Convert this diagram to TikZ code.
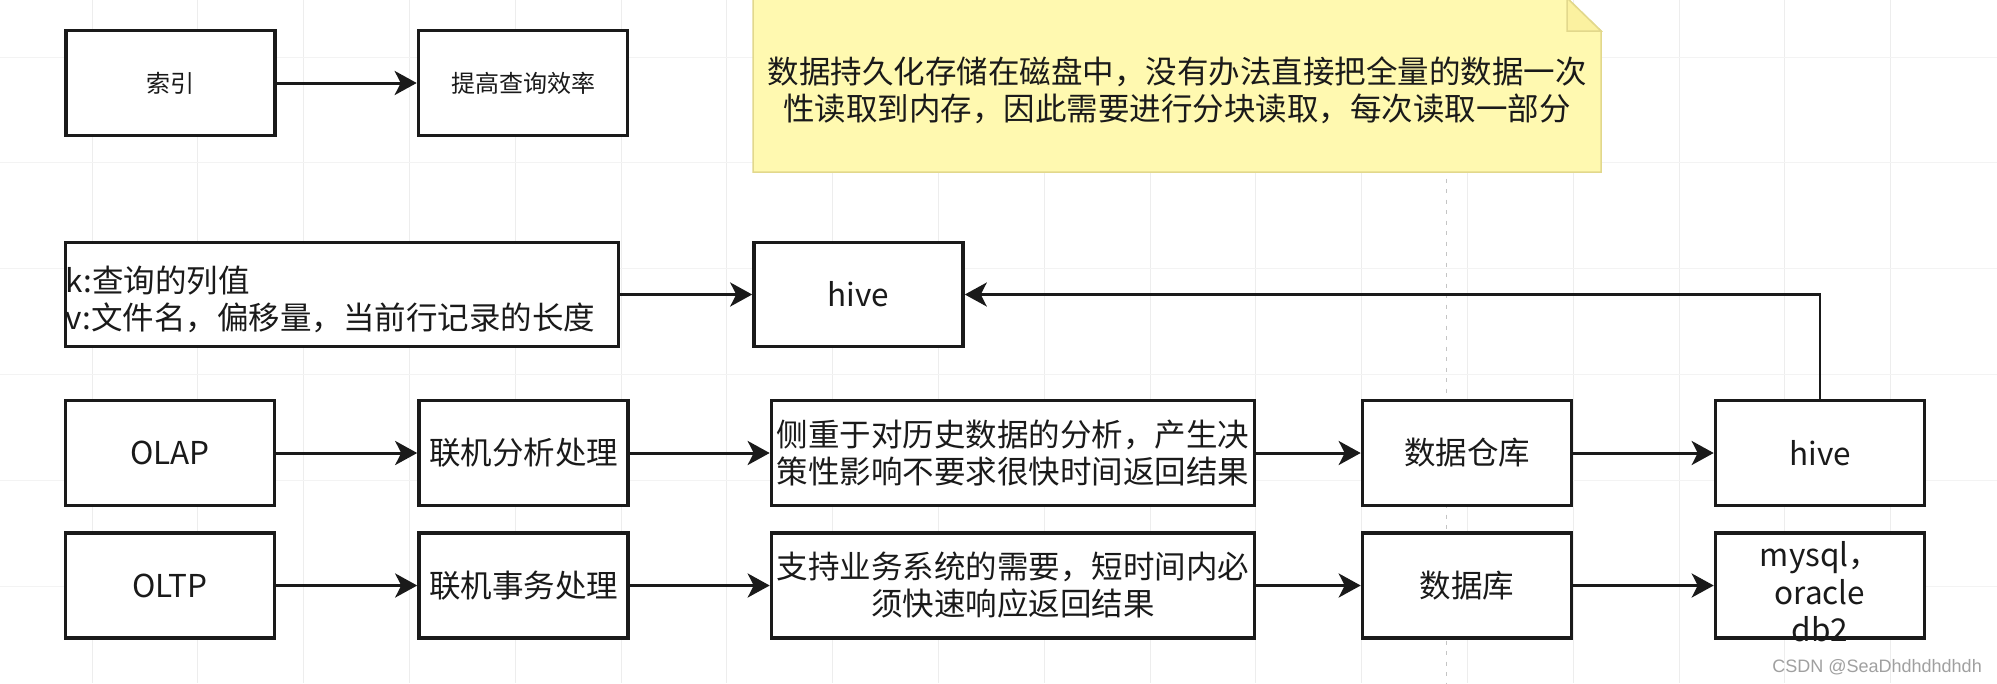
\documentclass[tikz,border=0pt]{standalone}
\usepackage{fontspec}
\setmainfont{Noto Sans CJK SC}
\newfontfamily\wmfont{Liberation Sans}
\usetikzlibrary{arrows.meta}
\definecolor{ink}{HTML}{1A1A1A}
\definecolor{gridc}{HTML}{EDEDED}
\definecolor{gridh}{HTML}{F3F3F3}
\definecolor{notefill}{HTML}{FFF9B0}
\definecolor{notedraw}{HTML}{E2D88C}
\definecolor{notefold}{HTML}{FBF1A0}
\definecolor{pagebrk}{HTML}{C4C4C4}
\definecolor{wmc}{HTML}{A0A0A0}
\begin{document}
\begin{tikzpicture}[x=1pt,y=-1pt,
  box/.style={draw=ink, line width=3.6pt, fill=white, inner sep=0pt, text=ink,
    font=\fontsize{31.5}{37}\selectfont, align=center,
    minimum width=209pt, minimum height=105pt},
  smallbox/.style={box, font=\fontsize{24}{28}\selectfont},
  txt/.style={text=ink, inner sep=0pt, font=\fontsize{31.5}{37}\selectfont},
  conn/.style={draw=ink, line width=3pt, -{Stealth[length=22pt,width=24pt,inset=6pt]}},
  fb/.style={draw=ink, line width=2.2pt, -{Stealth[length=22pt,width=24pt,inset=6pt]}},
 ]
\useasboundingbox (0,0) rectangle (1997,683);
\fill[white] (0,0) rectangle (1997,683);
% background grid
\foreach \i in {0,...,17} \draw[gridc, line width=1pt] ({92+105.8*\i},0) -- ({92+105.8*\i},683);
\foreach \j in {0,...,5} \draw[gridh, line width=1pt] (0,{57+105.8*\j}) -- (1997,{57+105.8*\j});
\draw[pagebrk, line width=1pt, dash pattern=on 4pt off 6.5pt] (1446,0) -- (1446,683);

% note
\path[fill=notefill, draw=notedraw, line width=1.5pt] (753,-2) -- (1567,-2) -- (1601,31) -- (1601,172) -- (753,172) -- cycle;
\path[fill=notefold, draw=notedraw, line width=1.5pt] (1567,-2) -- (1567,31) -- (1601,31) -- cycle;
\node[txt, align=center] (note) at (1177,90) {数据持久化存储在磁盘中，没有办法直接把全量的数据一次\\性读取到内存，因此需要进行分块读取，每次读取一部分};

% top row
\node[smallbox] (idx) at (170.5,83) {索引};
\node[smallbox] (eff) at (523,83) {提高查询效率};

% kv row
\node[box, minimum width=553pt, minimum height=104pt] (kv) at (342,294.5) {};
\node[txt, anchor=west, align=left] (kvtext) at ([xshift=2pt,yshift=-5pt]kv.west) {k:查询的列值\\v:文件名，偏移量，当前行记录的长度};
\node[box, minimum height=104pt] (hive1) at (858.5,294.5) {hive};

% OLAP row
\node[box] (olap) at (170,453) {OLAP};
\node[box] (olapcn) at (523.5,453) {联机分析处理};
\node[box, minimum width=483pt] (olapdesc) at (1013,453) {侧重于对历史数据的分析，产生决\\策性影响不要求很快时间返回结果};
\node[box] (dw) at (1467,453) {数据仓库};
\node[box] (hive2) at (1820,453) {hive};

% OLTP row
\node[box] (oltp) at (170,585.5) {OLTP};
\node[box] (oltpcn) at (523.5,585.5) {联机事务处理};
\node[box, minimum width=483pt] (oltpdesc) at (1013,585.5) {支持业务系统的需要，短时间内必\\须快速响应返回结果};
\node[box] (db) at (1467,585.5) {数据库};
\node[box] (mysql) at (1820,585.5) {};
\node[txt, align=center, font=\fontsize{31.5}{37.5}\selectfont] (mysqltext) at (1820,592) {mysql，\\oracle\\db2};

% connectors
\draw[conn] (idx) -- (eff);
\draw[conn] (kv) -- (hive1);
\draw[conn] (olap) -- (olapcn);
\draw[conn] (olapcn) -- (olapdesc);
\draw[conn] (olapdesc) -- (dw);
\draw[conn] (dw) -- (hive2);
\draw[conn] (oltp) -- (oltpcn);
\draw[conn] (oltpcn) -- (oltpdesc);
\draw[conn] (oltpdesc) -- (db);
\draw[conn] (db) -- (mysql);
\draw[fb] (hive2.north) |- (hive1.east);

% watermark
\node[font=\wmfont\fontsize{18}{20}\selectfont, text=wmc, anchor=east, inner sep=0pt] (wm) at (1982,667) {CSDN @SeaDhdhdhdhdh};
\end{tikzpicture}
\end{document}
